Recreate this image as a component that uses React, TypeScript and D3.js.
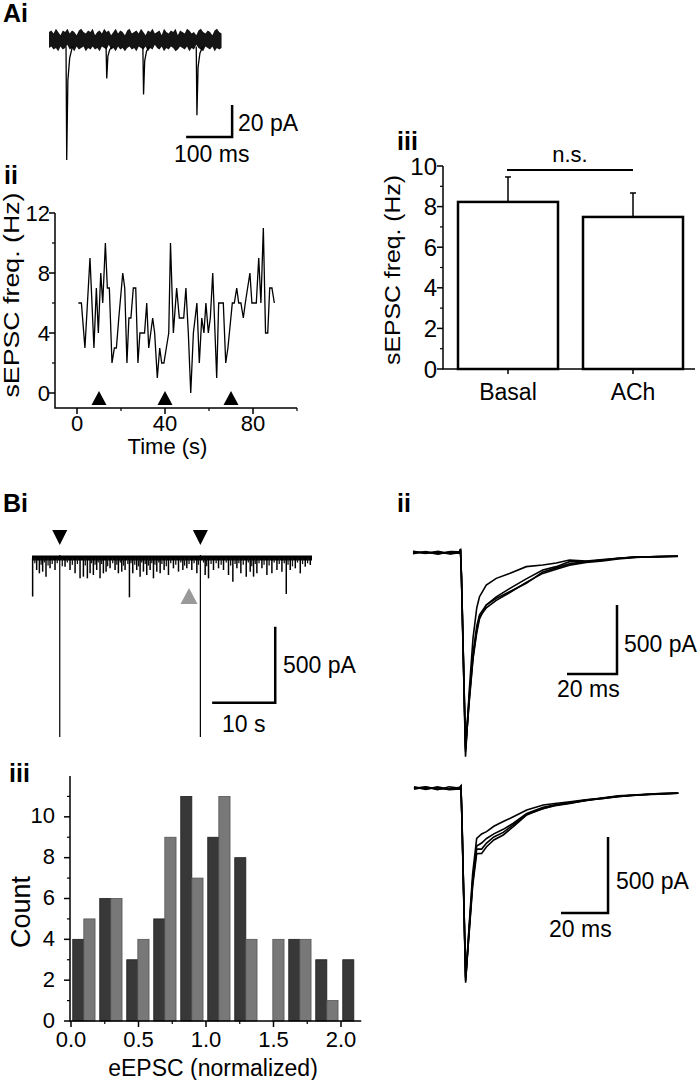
import * as d3 from 'd3'

const FONT = '"Liberation Sans", Arial, Helvetica, sans-serif'

// ---------- Ai : sample sEPSC trace (ms, pA) ----------
const aiNoiseTimes = [0, 5, 10, 15, 20, 25, 30, 35, 40, 45, 50, 55, 60, 65, 70, 75, 80, 85, 90, 95,
    100, 105, 110, 115, 120, 125, 130, 135, 140, 145, 150, 155, 160, 165, 170, 175, 180, 185, 190, 195,
    200, 205, 210, 215, 220, 225, 230, 235, 240, 245, 250, 255, 260, 265, 270, 275, 280, 285, 290, 295,
    300, 305, 310, 315, 320, 325, 330, 335, 340, 345, 350, 355, 360, 365, 370, 375]
const aiNoiseUpper = [5, 6, 4, 7, 5, 3, 6, 5, 7, 4, 6, 5, 3, 6, 7, 5, 4, 6, 5, 7,
    3, 5, 6, 4, 7, 5, 6, 3, 5, 7, 4, 6, 5, 3, 6, 7, 4, 5, 6, 4,
    7, 5, 3, 6, 5, 7, 4, 5, 6, 3, 7, 5, 4, 6, 5, 7, 3, 6, 5, 4,
    7, 6, 4, 5, 3, 6, 7, 5, 4, 6, 5, 3, 6, 7, 5, 4]
const aiNoiseLower = [-5, -4, -6, -5, -7, -4, -6, -5, -3, -6, -5, -7, -4, -6, -5, -4, -7, -5, -6, -4,
    -6, -5, -7, -4, -5, -6, -3, -6, -5, -7, -4, -6, -5, -7, -5, -4, -6, -5, -7, -4,
    -5, -6, -4, -7, -5, -6, -3, -5, -6, -4, -7, -5, -6, -4, -5, -7, -6, -4, -5, -6,
    -4, -7, -5, -6, -3, -5, -6, -7, -4, -5, -6, -4, -7, -5, -6, -5]
const aiEventTimes = [37, 124, 204, 320]
const aiEventAmps = [75, 24, 34, 47]
const eventShapeOffsets = [0, 1.5, 4, 8, 14]
const eventShapeFractions = [0, 1, 0.3, 0.1, 0]

// ---------- Aii : sEPSC frequency over time ----------
const aiiTimes = [0.6, 2, 3.6, 5.9, 7.7, 8.8, 9.7, 10.8, 11.7, 12.9, 13.8, 14.7, 15.9, 17, 17.9, 19, 20.8, 21.7, 22.7, 23.6,
    24.5, 25.6, 26.7, 27.7, 28.6, 29.8, 30.7, 31.7, 32.6, 34.4, 35.3, 36.5, 37.6, 38.5, 39.5, 40.6, 41.7, 42.5, 43.8, 45.3,
    46.5, 47.6, 48.5, 49.5, 50.6, 51.7, 52.9, 54.5, 55.6, 56.7, 57.7, 58.6, 59.7, 60.6, 61.7, 63.5, 64.4, 65.3, 66.5, 67.6,
    68.6, 70.6, 71.5, 72.6, 73.5, 74.5, 75.6, 76.5, 78.6, 79.5, 80.6, 81.5, 82.6, 83.6, 84.7, 85.7, 86.7, 87.6, 88.6, 89.7]
const aiiFreq = [6, 6, 3, 9, 3, 7, 4, 8, 6, 10, 7, 7, 2, 3, 3, 5, 8, 7, 2, 5,
    5, 7, 7, 2, 4, 4, 4, 6, 3, 5, 4, 1, 3, 2, 2, 3, 4, 10, 4, 7,
    5, 5, 5, 7, 4, 0, 4, 6, 2, 5, 4, 6, 4, 5, 8, 1, 6, 6, 6, 2,
    3, 6, 6, 7, 6, 6, 5, 6, 8, 6, 6, 6, 9, 6, 11, 4, 4, 7, 7, 6]
const aiiStimTimes = [10, 40, 70]
const aiiYTicks = [0, 4, 8, 12]
const aiiYMinor = [2, 6, 10]
const aiiXTicks = [0, 40, 80]
const aiiXMinor = [20, 60, 100]

// ---------- Aiii : mean sEPSC frequency ----------
const aiiiGroups = ['Basal', 'ACh']
const aiiiMeans = [8.23, 7.49]
const aiiiSems = [1.23, 1.18]
const aiiiYTicks = [0, 2, 4, 6, 8, 10]
const aiiiYMinor = [1, 3, 5, 7, 9]

// ---------- Bi : long recording with evoked responses (s, pA) ----------
const biEventTimes = [0.1, 0.74, 1.17, 1.69, 2.22, 2.86, 3.65, 5.24, 6.03, 6.83, 7.62, 8.15, 8.78, 9.21, 9.73, 10.26, 10.79,
    11.32, 11.75, 12.38, 13.17, 13.7, 14.23, 14.76, 15.45, 15.98, 16.61, 17.14, 17.67, 18.2, 18.73, 19.26, 19.79, 20.32,
    20.95, 21.64, 22.43, 23.23, 23.92, 24.55, 25.34, 26.14, 27.46, 27.99, 28.78, 29.58, 30.37, 31.16, 31.85, 32.49, 33.12,
    33.97, 34.6, 35.13, 35.66, 36.46, 37.25, 38.04, 38.84, 39.63, 40.32, 40.95, 41.75, 42.54, 43.33, 44.13]
const biEventAmps = [254, 79, 101, 90, 123, 68, 79, 57, 79, 101, 134, 123, 134, 101, 112, 79, 134,
    101, 90, 68, 79, 101, 90, 79, 259, 101, 79, 123, 90, 112, 79, 134, 90, 101,
    79, 112, 68, 90, 79, 68, 79, 101, 112, 134, 79, 68, 79, 112, 156, 68, 101,
    123, 90, 123, 101, 68, 112, 101, 79, 90, 237, 79, 68, 101, 57, 46]
const biSmallTimes = [0.45, 1.45, 1.95, 2.55, 3.2, 4.0, 4.8, 5.6, 6.4, 7.2, 8.45, 9.45, 10.0, 10.5, 11.05, 12.0, 12.8,
    13.45, 14.0, 14.5, 15.2, 15.7, 16.3, 16.9, 17.4, 17.95, 18.45, 19.0, 19.5, 20.1, 20.6, 21.3, 22.0, 22.8, 23.6, 24.2,
    24.9, 25.7, 26.4, 27.2, 27.7, 28.4, 29.2, 30.0, 30.8, 31.5, 32.2, 32.8, 33.5, 34.3, 34.85, 35.4, 36.0, 36.8, 37.6,
    38.4, 39.2, 40.0, 40.6, 41.3, 42.1, 42.9, 43.7]
const biSmallAmps = [35, 45, 30, 50, 40, 35, 55, 30, 45, 40, 50, 35, 45, 30, 40, 55, 35, 45, 30, 50,
    40, 35, 45, 55, 30, 40, 50, 35, 45, 30, 40, 55, 35, 45, 30, 50, 40, 35, 45, 30,
    55, 40, 35, 45, 30, 50, 40, 35, 45, 30, 55, 40, 35, 45, 50, 30, 40, 35, 45, 55, 30, 40, 35]
const biStimTimes = [4.4, 26.7]
const biStimAmp = 1180
const biAchTime = 24.9

// ---------- Bii : overlaid eEPSCs (ms, pA) ----------
const biiTopTimes = [-19, -14, -9, -4, -0.5, 0, 0.4, 2, 3.5, 5, 6.5, 7.6, 10.3, 14.3, 19.6, 26.3, 32.9, 38.3, 43.6, 50.3,
    56.9, 63, 70.3, 78, 87]
const biiTopTraces = [
    [8, -6, 10, -8, 5, 25, -200, -1478, -1000, -620, -400, -319, -234, -186, -150, -101, -89, -75, -53, -60, -50, -40, -29, -30, -24],
    [-7, 9, -8, 6, -5, 22, -180, -1440, -1060, -760, -560, -464, -400, -345, -290, -215, -150, -120, -90, -70, -60, -45, -35, -28, -27],
    [0, 5, -10, 9, 7, 20, -190, -1400, -1040, -730, -530, -450, -380, -331, -283, -222, -140, -110, -80, -65, -55, -42, -30, -30, -26],
    [10, -3, 4, -9, 0, 24, -170, -1420, -1080, -770, -580, -480, -379, -320, -260, -190, -125, -101, -65, -65, -53, -40, -33, -27, -25],
]
const biiBotTimes = [-20, -15, -10, -5, -0.5, 0, 0.4, 2, 3.5, 5, 6.7, 8.8, 10.9, 14, 18, 22.3, 28, 35, 40, 46.4,
    53, 60.6, 67, 74.8, 84, 92.5]
const biiBotTraces = [
    [8, -7, 9, -6, 4, 15, -200, -1279, -900, -560, -329, -300, -285, -250, -219, -187, -143, -110, -100, -88, -75, -66, -55, -44, -38, -33],
    [-6, 8, -9, 10, 0, 12, -180, -1250, -950, -640, -430, -428, -384, -340, -307, -252, -175, -132, -115, -99, -80, -66, -52, -44, -36, -33],
    [0, 9, -5, -3, 7, 14, -190, -1240, -920, -600, -380, -360, -330, -300, -270, -230, -165, -125, -108, -95, -78, -62, -50, -42, -37, -31],
    [9, -3, 4, -9, -4, 13, -170, -1265, -940, -620, -400, -400, -360, -320, -290, -240, -170, -135, -112, -97, -82, -64, -53, -45, -35, -32],
]

// ---------- Biii : eEPSC amplitude histogram ----------
const biiiBins = [0, 0.2, 0.4, 0.6, 0.8, 1.0, 1.2, 1.4, 1.6, 1.8, 2.0]
const biiiDark = [4, 6, 3, 5, 11, 9, 8, 0, 4, 3, 3]
const biiiGray = [5, 6, 4, 9, 7, 11, 4, 4, 4, 1, 0]
const biiiYTicks = [0, 2, 4, 6, 8, 10]
const biiiYMinor = [1, 3, 5, 7, 9, 11]
const biiiXTicks = [0, 0.5, 1.0, 1.5, 2.0]
const biiiXMinor = [0.25, 0.75, 1.25, 1.75]

const PanelLabel = ({ x, y, text }: { x: number, y: number, text: string }) => (
    <text x={x} y={y} fontFamily={FONT} fontWeight="bold" fontSize={25}>{text}</text>
)

const ScaleBar = (props: { x0: number, x1: number, y0: number, y1: number }) => (
    <path d={`M ${props.x0} ${props.y1} H ${props.x1} V ${props.y0}`} fill="none" stroke="black" strokeWidth={2.5} />
)

const TraceAi = () => {
    const x = d3.scaleLinear().domain([0, 376]).range([49, 222])
    const y = d3.scaleLinear().domain([0, -75]).range([40, 160])
    const band = d3.area<number>()
        .x((_, i) => x(aiNoiseTimes[i]))
        .y0((_, i) => y(aiNoiseLower[i]))
        .y1(d => y(d))
    const line = d3.line<[number, number]>().x(d => x(d[0])).y(d => y(d[1]))
    const spikes = aiEventTimes.map((t, i) =>
        line(eventShapeOffsets.map((o, j) => [t + o, -4 - (aiEventAmps[i] - 4) * eventShapeFractions[j]] as [number, number])))
    return (
        <g>
            <path d={band(aiNoiseUpper) ?? ''} fill="#141414" stroke="none" />
            {spikes.map((d, i) => <path key={i} d={d ?? ''} fill="none" stroke="black" strokeWidth={1.3} />)}
            <ScaleBar x0={x(298)} x1={x(398)} y0={y(-40.6)} y1={y(-60.6)} />
            <text x={238} y={131} fontFamily={FONT} fontSize={23}>20 pA</text>
            <text x={174} y={162} fontFamily={FONT} fontSize={23}>100 ms</text>
        </g>
    )
}

const FreqAii = () => {
    const x = d3.scaleLinear().domain([-10, 100]).range([55, 297])
    const y = d3.scaleLinear().domain([-1, 12]).range([408, 213])
    const line = d3.line<number>().x((_, i) => x(aiiTimes[i])).y(d => y(d))
    return (
        <g fontFamily={FONT}>
            <path d={line(aiiFreq) ?? ''} fill="none" stroke="black" strokeWidth={1.3} />
            {aiiStimTimes.map((t, i) => (
                <path key={i} d={`M ${x(t) - 7.5} 405 L ${x(t) + 7.5} 405 L ${x(t)} 391 Z`} fill="black" />
            ))}
            <path d={`M ${x(-10)} ${y(12)} V ${y(-1)} H ${x(100)}`} fill="none" stroke="black" strokeWidth={1.5} />
            {aiiYTicks.map(v => (
                <g key={v}>
                    <line x1={x(-10) - 6} x2={x(-10)} y1={y(v)} y2={y(v)} stroke="black" strokeWidth={1.5} />
                    <text x={50} y={y(v)} textAnchor="end" dominantBaseline="central" fontSize={22}>{v}</text>
                </g>
            ))}
            {aiiYMinor.map(v => (
                <line key={v} x1={x(-10) - 3} x2={x(-10)} y1={y(v)} y2={y(v)} stroke="black" strokeWidth={1.2} />
            ))}
            {aiiXTicks.map(v => (
                <g key={v}>
                    <line x1={x(v)} x2={x(v)} y1={y(-1)} y2={y(-1) + 6} stroke="black" strokeWidth={1.5} />
                    <text x={x(v)} y={431} textAnchor="middle" fontSize={22}>{v}</text>
                </g>
            ))}
            {aiiXMinor.map(v => (
                <line key={v} x1={x(v)} x2={x(v)} y1={y(-1)} y2={y(-1) + 3} stroke="black" strokeWidth={1.2} />
            ))}
            <text x={167.5} y={454} textAnchor="middle" fontSize={22}>Time (s)</text>
            <text transform="translate(19,295) rotate(-90)" textAnchor="middle" fontSize={22}
                textLength={205} lengthAdjust="spacingAndGlyphs">sEPSC freq. (Hz)</text>
        </g>
    )
}

const BarsAiii = () => {
    const x = d3.scaleBand().domain(aiiiGroups).range([445.5, 695.5]).paddingInner(0.2).paddingOuter(0.1)
    const y = d3.scaleLinear().domain([0, 10]).range([369, 166])
    const axisX = 443
    const centre = (g: string) => (x(g) as number) + x.bandwidth() / 2
    return (
        <g fontFamily={FONT}>
            {aiiiGroups.map((g, i) => {
                const x0 = x(g) as number
                const cx = centre(g)
                const top = y(aiiiMeans[i] + aiiiSems[i])
                return (
                    <g key={g}>
                        <line x1={cx} x2={cx} y1={y(aiiiMeans[i])} y2={top} stroke="black" strokeWidth={1.5} />
                        <line x1={cx - 3} x2={cx + 3} y1={top} y2={top} stroke="black" strokeWidth={1.5} />
                        <rect x={x0} y={y(aiiiMeans[i])} width={x.bandwidth()} height={y(0) - y(aiiiMeans[i])}
                            fill="white" stroke="black" strokeWidth={2.5} />
                        <line x1={cx} x2={cx} y1={y(0)} y2={y(0) + 5} stroke="black" strokeWidth={1.5} />
                        <text x={cx} y={400} textAnchor="middle" fontSize={23}>{g}</text>
                    </g>
                )
            })}
            <path d={`M ${axisX} ${y(10)} V ${y(0)} H 695`} fill="none" stroke="black" strokeWidth={1.5} />
            {aiiiYTicks.map(v => (
                <g key={v}>
                    <line x1={axisX - 6} x2={axisX} y1={y(v)} y2={y(v)} stroke="black" strokeWidth={1.5} />
                    <text x={437} y={y(v)} textAnchor="end" dominantBaseline="central" fontSize={24}>{v}</text>
                </g>
            ))}
            {aiiiYMinor.map(v => (
                <line key={v} x1={axisX - 3} x2={axisX} y1={y(v)} y2={y(v)} stroke="black" strokeWidth={1.2} />
            ))}
            <line x1={centre('Basal') - 1} x2={centre('ACh')} y1={y(9.8)} y2={y(9.8)} stroke="black" strokeWidth={2} />
            <text x={570} y={162} textAnchor="middle" fontSize={22}>n.s.</text>
            <text transform="translate(400,270) rotate(-90)" textAnchor="middle" fontSize={22}
                textLength={190} lengthAdjust="spacingAndGlyphs">sEPSC freq. (Hz)</text>
        </g>
    )
}

const TraceBi = () => {
    const x = d3.scaleLinear().domain([0, 44.4]).range([32, 312])
    const y = d3.scaleLinear().domain([0, -biStimAmp]).range([558, 737])
    return (
        <g>
            <line x1={x(0)} x2={x(44.4)} y1={y(0)} y2={y(0)} stroke="black" strokeWidth={5} />
            {biSmallTimes.map((t, i) => (
                <line key={'s' + i} x1={x(t)} x2={x(t)} y1={y(0)} y2={y(-biSmallAmps[i])} stroke="#111" strokeWidth={1.3} />
            ))}
            {biEventTimes.map((t, i) => (
                <line key={i} x1={x(t)} x2={x(t)} y1={y(0)} y2={y(-biEventAmps[i])} stroke="black" strokeWidth={1.5} />
            ))}
            {biStimTimes.map((t, i) => (
                <g key={i}>
                    <line x1={x(t)} x2={x(t)} y1={y(20)} y2={y(-biStimAmp)} stroke="black" strokeWidth={1.2} />
                    <path d={`M ${x(t) - 7.5} 530 L ${x(t) + 7.5} 530 L ${x(t)} 545 Z`} fill="black" />
                </g>
            ))}
            <path d={`M ${x(biAchTime) - 8.5} 604 L ${x(biAchTime) + 8.5} 604 L ${x(biAchTime)} 588 Z`} fill="#999" />
            <ScaleBar x0={x(28.57)} x1={x(38.57)} y0={y(-454)} y1={y(-954)} />
            <text x={283} y={673} fontFamily={FONT} fontSize={23}>500 pA</text>
            <text x={222} y={732} fontFamily={FONT} fontSize={23}>10 s</text>
        </g>
    )
}

const TracesBii = (props: { times: number[], traces: number[][], x: d3.ScaleLinear<number, number>, y: d3.ScaleLinear<number, number> }) => {
    const line = d3.line<number>().x((_, i) => props.x(props.times[i])).y(d => props.y(d))
    return (
        <g>
            {props.traces.map((t, i) => (
                <path key={i} d={line(t) ?? ''} fill="none" stroke="black" strokeWidth={1.6} />
            ))}
        </g>
    )
}

const BiiPanels = () => {
    const topX = d3.scaleLinear().domain([-19, 87]).range([413, 678])
    const topY = d3.scaleLinear().domain([0, -1500]).range([552.7, 759.7])
    const botX = d3.scaleLinear().domain([-20.4, 92.5]).range([413, 678.3])
    const botY = d3.scaleLinear().domain([0, -1300]).range([788.3, 985.9])
    return (
        <g fontFamily={FONT}>
            <TracesBii times={biiTopTimes} traces={biiTopTraces} x={topX} y={topY} />
            <ScaleBar x0={topX(42.6)} x1={topX(62.6)} y0={topY(-379)} y1={topY(-879)} />
            <text x={624} y={652} fontSize={23}>500 pA</text>
            <text x={557} y={697} fontSize={23}>20 ms</text>
            <TracesBii times={biiBotTimes} traces={biiBotTraces} x={botX} y={botY} />
            <ScaleBar x0={botX(42.6)} x1={botX(62.6)} y0={botY(-320)} y1={botY(-820)} />
            <text x={616} y={889} fontSize={23}>500 pA</text>
            <text x={549} y={937} fontSize={23}>20 ms</text>
        </g>
    )
}

const HistBiii = () => {
    const x = d3.scaleLinear().domain([0, 2.15]).range([71, 361.25])
    const y = d3.scaleLinear().domain([0, 12]).range([1021, 776])
    const axisX = 70
    return (
        <g fontFamily={FONT}>
            {biiiBins.map((b, i) => (
                <g key={b}>
                    {biiiDark[i] > 0 && (
                        <rect x={x(b + 0.013)} y={y(biiiDark[i])} width={x(b + 0.095) - x(b + 0.013)} height={y(0) - y(biiiDark[i])}
                            fill="#383838" stroke="#1e1e1e" strokeWidth={0.8} />
                    )}
                    {biiiGray[i] > 0 && (
                        <rect x={x(b + 0.095)} y={y(biiiGray[i])} width={x(b + 0.178) - x(b + 0.095)} height={y(0) - y(biiiGray[i])}
                            fill="#787878" stroke="#555" strokeWidth={0.8} />
                    )}
                </g>
            ))}
            <path d={`M ${axisX} ${y(12)} V ${y(0)} H ${x(2.15)}`} fill="none" stroke="black" strokeWidth={1.5} />
            {biiiYTicks.map(v => (
                <g key={v}>
                    <line x1={axisX - 6} x2={axisX} y1={y(v)} y2={y(v)} stroke="black" strokeWidth={1.5} />
                    <text x={55} y={y(v) - 1} textAnchor="end" dominantBaseline="central" fontSize={22}>{v}</text>
                </g>
            ))}
            {biiiYMinor.map(v => (
                <line key={v} x1={axisX - 3} x2={axisX} y1={y(v)} y2={y(v)} stroke="black" strokeWidth={1.2} />
            ))}
            {biiiXTicks.map(v => (
                <g key={v}>
                    <line x1={x(v)} x2={x(v)} y1={y(0)} y2={y(0) + 6} stroke="black" strokeWidth={1.5} />
                    <text x={x(v)} y={1047} textAnchor="middle" fontSize={22}>{v.toFixed(1)}</text>
                </g>
            ))}
            {biiiXMinor.map(v => (
                <line key={v} x1={x(v)} x2={x(v)} y1={y(0)} y2={y(0) + 3} stroke="black" strokeWidth={1.2} />
            ))}
            <text x={213} y={1076} textAnchor="middle" fontSize={23}>eEPSC (normalized)</text>
            <text transform="translate(30,912) rotate(-90)" textAnchor="middle" fontSize={27}>Count</text>
        </g>
    )
}

export default function App() {
    return (
        <svg width={700} height={1080} style={{ position: 'absolute', left: 0, top: 0, background: 'white' }}>
            <PanelLabel x={3} y={22} text="Ai" />
            <PanelLabel x={4} y={184} text="ii" />
            <PanelLabel x={397} y={150} text="iii" />
            <PanelLabel x={3} y={512} text="Bi" />
            <PanelLabel x={397} y={512} text="ii" />
            <PanelLabel x={9} y={782} text="iii" />
            <TraceAi />
            <FreqAii />
            <BarsAiii />
            <TraceBi />
            <BiiPanels />
            <HistBiii />
        </svg>
    )
}
